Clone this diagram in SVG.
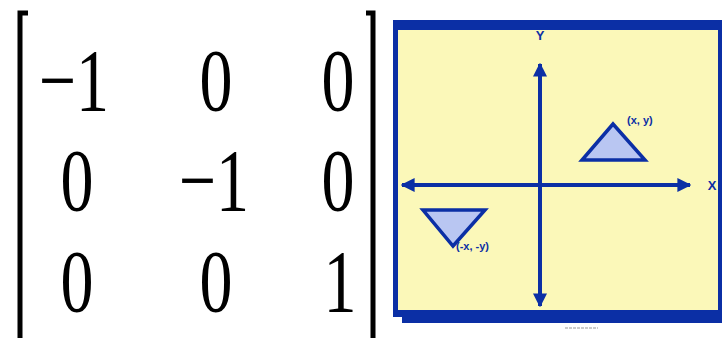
<svg xmlns="http://www.w3.org/2000/svg" width="722" height="338" viewBox="0 0 722 338">
<style>
.num{font-family:"Liberation Serif","Times New Roman",serif;font-size:88px;fill:#000;text-anchor:middle}
.br{fill:none;stroke:#000;stroke-width:5}
.ax{stroke:#0b2fa5;stroke-width:4;fill:none}
.tri{fill:#b9c6f2;stroke:#0b2fa5;stroke-width:3.5;stroke-linejoin:miter}
.lbl{font-family:"Liberation Sans",Arial,sans-serif;font-weight:bold;fill:#0b2fa5}
</style>
<defs>
<marker id="ah" viewBox="0 0 10 10" refX="9" refY="5" markerWidth="3.5" markerHeight="3.5" orient="auto-start-reverse" markerUnits="strokeWidth">
<path d="M0,0 L10,5 L0,10 z" fill="#0b2fa5"/>
</marker>
</defs>
<rect width="722" height="338" fill="#fff"/>
<g id="matrix">
<path class="br" d="M28,13 H20 V338"/>
<path class="br" d="M366,13 H373 V338"/>
<text class="num" transform="translate(74,110) scale(0.75,1)">−1</text>
<text class="num" transform="translate(216,110) scale(0.75,1)">0</text>
<text class="num" transform="translate(338,110) scale(0.75,1)">0</text>
<text class="num" transform="translate(77,210) scale(0.75,1)">0</text>
<text class="num" transform="translate(214,210) scale(0.75,1)">−1</text>
<text class="num" transform="translate(338,210) scale(0.75,1)">0</text>
<text class="num" transform="translate(77,311) scale(0.75,1)">0</text>
<text class="num" transform="translate(216,311) scale(0.75,1)">0</text>
<text class="num" transform="translate(340,311) scale(0.75,1)">1</text>
</g>
<g id="frame">
<rect x="402" y="24" width="320" height="299" fill="#0b2fa5"/>
<rect x="393" y="20" width="329" height="297" fill="#0b2fa5"/>
<rect x="398" y="30" width="320" height="280" fill="#fbf8b9"/>
</g>
<g id="connectors">
<line class="ax" x1="540" y1="64" x2="540" y2="306" marker-start="url(#ah)" marker-end="url(#ah)"/>
<line class="ax" x1="402" y1="185" x2="690" y2="185" marker-start="url(#ah)" marker-end="url(#ah)"/>
</g>
<g id="axis-labels">
<text class="lbl" x="540" y="40" font-size="13" text-anchor="middle">Y</text>
<text class="lbl" x="712" y="190" font-size="13" text-anchor="middle">X</text>
</g>
<g id="tri-up">
<polygon class="tri" points="613,124 645,160 582,160"/>
<text class="lbl" x="627" y="124" font-size="11">(x, y)</text>
</g>
<g id="tri-down">
<polygon class="tri" points="423,210 485,210 453,246"/>
<text class="lbl" x="456" y="250" font-size="11">(-x, -y)</text>
</g>
<line x1="565" y1="328" x2="598" y2="328" stroke="#999" stroke-width="1" stroke-dasharray="3,1"/>
</svg>
